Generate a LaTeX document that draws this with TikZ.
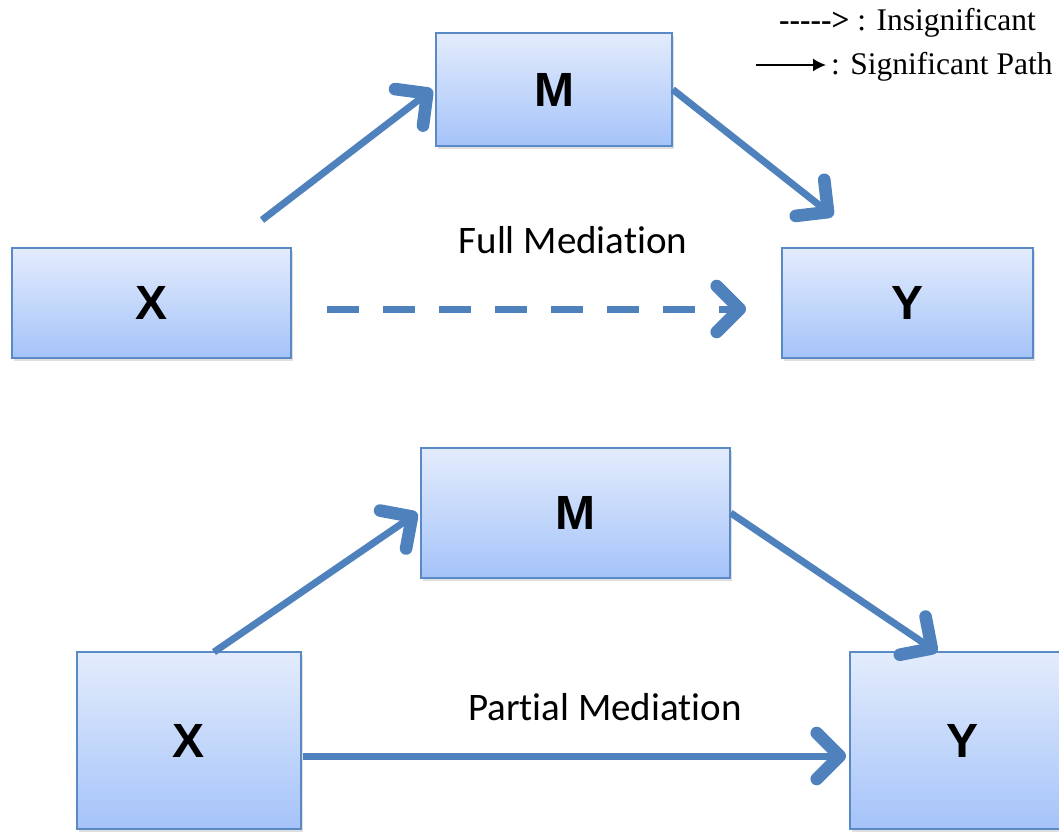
\documentclass[tikz,border=0pt]{standalone}
\usepackage{fontspec}
\setmainfont{Liberation Serif}
\setsansfont{Liberation Sans}
\newfontfamily\calibri{Carlito}[Ligatures=NoCommon]
\usetikzlibrary{arrows.meta,shadows,calc}
\definecolor{boxline}{HTML}{5A8AC6}
\definecolor{boxtop}{HTML}{E3ECFC}
\definecolor{boxbot}{HTML}{A5C3F9}
\definecolor{arrowc}{HTML}{4F81BD}
\tikzset{
  varbox/.style={draw=boxline, line width=1.5pt, top color=boxtop, bottom color=boxbot,
    drop shadow={opacity=0.25, shadow xshift=1.5pt, shadow yshift=-3pt},
    font=\sffamily\bfseries\fontsize{48}{56}\selectfont, inner sep=0pt},
  patharrow/.style={draw=arrowc, line width=7pt, -{Straight Barb[length=23pt,width=46pt,round,line width=0pt 1.8]}},
  dasharrow/.style={patharrow, dash pattern=on 32pt off 24pt},
  medlabel/.style={font=\calibri\fontsize{39}{47}\selectfont, anchor=base, inner sep=0pt},
  legendtext/.style={font=\fontsize{31.5}{36}\selectfont, anchor=base west, inner sep=0pt}
}
\begin{document}
\begin{tikzpicture}[x=1pt,y=-1pt]
\useasboundingbox (0,0) rectangle (1059,831);
% top: full mediation
\node[varbox, minimum width=236pt, minimum height=113pt] (M1) at (554,89.5) {M};
\node[varbox, minimum width=279pt, minimum height=110pt] (X1) at (151.5,303) {X};
\node[varbox, minimum width=251pt, minimum height=110pt] (Y1) at (907.5,303) {Y};
\node[medlabel] (L1) at (573,253) {Full Mediation};
\coordinate (a1s) at (262,220);
\coordinate (b1e) at (833,216);
\coordinate (c1s) at (327,309);
\coordinate (c1e) at (746,309);
\draw[patharrow] (a1s) -- ($(M1.west)+(-3,0)$);
\draw[patharrow] (M1.east) -- (b1e);
\draw[dasharrow] (c1s) -- (c1e);
% bottom: partial mediation
\node[varbox, minimum width=309pt, minimum height=130pt] (M2) at (575.5,513) {M};
\node[varbox, minimum width=224pt, minimum height=177pt] (X2) at (189,740.5) {X};
\node[varbox, minimum width=224pt, minimum height=177pt] (Y2) at (962,740.5) {Y};
\node[medlabel] (L2) at (605,720) {Partial Mediation};
\coordinate (a2s) at (214,652);
\coordinate (b2e) at (937,652);
\coordinate (c2s) at (303,756);
\coordinate (c2e) at (846,756);
\draw[patharrow] (a2s) -- ($(M2.west)+(-3,0)$);
\draw[patharrow] (M2.east) -- (b2e);
\draw[patharrow] (c2s) -- (c2e);
% legend
\node[legendtext] (lg1) at (779,30) {\textbf{{-}{-}{-}{-}{-}>} : Insignificant};
\node[legendtext] (lg2) at (831,74) {: Significant Path};
\coordinate (lgs) at (756,65);
\coordinate (lge) at (826,65);
\draw[line width=1.8pt, -{Latex[length=13pt,width=13pt]}] (lgs) -- (lge);
\end{tikzpicture}
\end{document}
